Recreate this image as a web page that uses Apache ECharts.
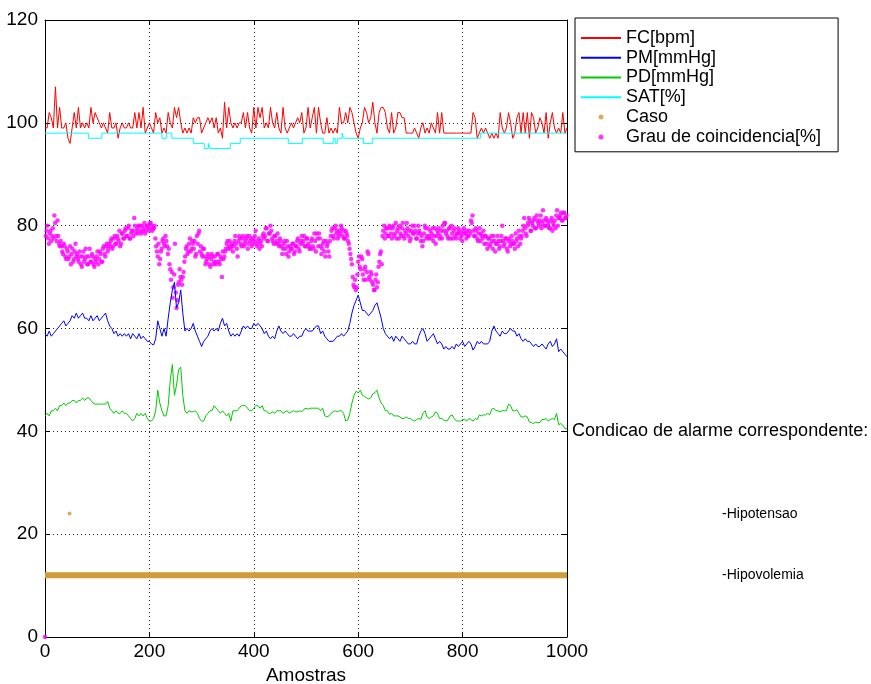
<!DOCTYPE html>
<html><head><meta charset="utf-8">
<script src="https://cdn.jsdelivr.net/npm/echarts@6/dist/echarts.min.js"></script>
<style>html,body{margin:0;padding:0;background:#fff}#c{width:871px;height:684px}</style>
</head><body><div id="c"></div>
<script>
// ---- data ----
const xTicks = [0, 200, 400, 600, 800, 1000];
const yTicks = [0, 20, 40, 60, 80, 100, 120];
const legendNames = ['FC[bpm]', 'PM[mmHg]', 'PD[mmHg]', 'SAT[%]', 'Caso', 'Grau de coincidencia[%]'];
const lineSampleStep = 4;   // FC, PM, PD read every 4 samples (0..1000)
const fcValues = [
99,99,102,101,99,107,99,103,99,99,
100,97,96,99,102,99,103,99,100,99,
100,99,103,100,102,101,100,99,100,99,
98,102,99,99,100,97,99,100,99,99,
100,99,99,102,99,102,99,103,98,99,
100,99,98,102,100,101,98,99,98,102,
100,99,103,101,103,100,98,99,98,99,
98,101,100,101,101,98,99,100,101,100,
101,99,101,98,99,97,104,99,103,100,
99,100,99,100,100,102,99,102,99,98,
103,99,103,101,103,99,100,99,103,100,
99,102,99,98,103,99,98,99,100,99,
100,101,100,102,98,99,103,99,101,103,
98,103,100,98,98,101,98,99,98,99,
98,103,100,100,102,100,103,102,100,98,
97,99,100,103,102,100,101,104,100,98,
102,103,103,102,99,98,102,98,99,102,
102,101,101,98,98,98,98,99,98,97,
99,100,98,99,98,100,99,98,102,98,
102,98,98,98,98,98,98,98,98,98,
98,98,98,98,98,102,101,97,98,99,
98,99,98,97,98,97,98,97,102,99,
98,99,102,100,97,98,101,102,98,102,
98,102,97,102,101,98,99,101,100,98,
102,97,100,102,99,98,99,98,102,98,
99];
const pmValues = [
59,58.5,59.5,58.5,59,59.5,60,60.5,61,61.5,
60.5,61,61.5,62.5,62,63,62,62.5,63,62,
62,61.5,62.5,61.5,62,62.5,61.5,62,62.5,63,
61.5,60.5,60,59,59.5,58.5,59,58.5,59,58.5,
59,58,59,58.5,58,59,58,58.5,58,57.5,
57.5,57,56.8,58,61.5,60,58.5,60,58.5,62,
65,67.5,69,64,65,67.5,63,59.5,60,59.5,
60,61,59.5,58.5,57.5,56.5,57.5,58,58.5,59.5,
60,59.5,60,59.5,61,62,60.5,61,59.5,58.5,
59,58.5,59,58.5,59.5,60.5,60,60.5,60,60,
61,60.5,61,60.5,60,59,59.5,58.5,58,58.5,
58,59.5,60.5,59.5,59,59.5,59,58.5,58.5,59,
58.5,58,58.5,58.5,59.5,60,59.5,59.5,59.5,60,
60.5,60.5,59,59.5,58.5,58,57.5,57.5,57.5,58,
58.5,58.5,59,58.5,59,59.5,61,63,64.5,65.5,
66.5,65,63.5,63.5,63,62.5,63,63.5,64.5,65,
63.5,62,60,59,58.5,58,58.5,57.5,58.5,58,
57.5,58.5,58,57.5,57,57,57.5,57,57,58.5,
59.5,60,59,57.5,58,58.5,59,58,57,57.5,
57,56,56.5,56,56,56.5,56,57,56.5,57,
57.5,56.5,57,57.5,57,55.8,56.5,57.5,57,57.5,
57,57,57,57.5,59.5,60.5,59.5,59,58.5,59.5,
59,59,59.5,60,59.5,59.5,58.5,59,58,57.5,
58,57.5,57.5,57,56.5,57,56.5,56.5,57,56.5,
56,57,57.5,56.5,57,58,55.5,56,55.5,55,
54.5];
const pdValues = [
43,43.5,43,44,44,44.5,44,45,45,45.5,
45,45.5,45.5,46,46,45.5,46,46,46.5,46,
46.5,46.5,46,45.5,45.3,45.3,45.3,45.3,45.3,45.3,
45.8,44.5,44,43.5,44,43.5,43.5,44,43.5,43.5,
43,42.5,42,42.5,43.5,43,43.5,43,43.5,42.5,
42,42,42.5,44,48,45.5,44,43,43,45,
50,53,47,49,52,52.5,47,44,43.5,44,
43.8,43.8,44,43.5,42.5,42,42,43,43.5,44,
44,45,44.5,44,43.5,44,43.5,43,43.5,42,
44,44,44,44.5,45,45,45,44.5,44,44,
44.5,45,45,44.5,45,44,44,43.5,43.5,43.8,
43.5,44,44,44,43.5,43.8,44,43.5,43.8,44,
43.8,43.8,44,43.8,44.3,44.5,44.3,44.5,44.5,44.5,
44.5,44.5,44,44.5,43,42.8,43,43.5,43.8,44,
43.8,44,44,43.5,42,42.2,43.5,45.5,47,47.8,
47.5,48,47,46.8,46.5,46.3,46.5,47.3,47.5,48,
46.5,45.5,45,44,44,43.3,43.5,43,43,43,
42.8,42.5,42.5,42.8,42.5,42.5,42.2,42,42.3,42.5,
42.3,43.5,44,42.8,42.5,42.8,43,43.8,43.5,42.5,
42.5,42.2,42,42.2,43,43.2,42.5,42,42,42,
42.3,42.3,42,42.5,42.3,42,42.5,42.3,43.2,43,
43.2,43.2,43.5,43.2,44.3,44.5,44,44,43.8,44,
44,44,45.3,45,44,44,44.2,43.5,42.8,42.8,
43,42.8,41.8,41.7,41.5,41.8,41.7,41.7,42.3,42.3,
42.5,42,42.3,42.5,42.3,43.5,41.3,41.5,41.2,40.5,
40.5];
// SAT: sample where each level starts, and the level
const satStartX = [0,83,109,224,233,243,284,305,313,316,355,374,466,493,533,552,556,560,569,572,610,627,834,1000];
const satLevels = [98,97,98,97,98,97,96,95,96,95,96,97,96,97,96,97,96,97,98,97,96,97,98,98];
// Caso: constant band of samples at 12, plus one sample at 24
const casoBandX = [0, 1000];
const casoBandY = [12, 12];
const casoPointX = [47];
const casoPointY = [24];
// Grau de coincidencia: set A read at samples 0,3,6..999 ; set B at 1.5,4.5,...,997.5
const grauStep = 3;
const grauOffsetB = 1.5;
const grauValuesA = [0,
79,77.5,78.5,77,79.5,82,78,81,76.5,77,
75,76.5,74,75.5,73.5,76,74.5,73,75,74,
73.5,75,72.5,74,73,75.5,72.5,74,73,74.5,
72.5,73.5,74,72.5,75,73,75.5,74.5,76,75,
76.5,77,75.5,77.5,76.5,78,77,76,78.5,77.5,
79,78,79.5,77.5,78.5,79,81.5,78.5,79.5,80,
79,80,79.5,78.5,80,79.5,80.5,80,79.5,80,
76,74,72.5,75,77,76.5,78,76,75.5,71.5,
71,68,76.5,64,68.5,71.5,69.5,70,73,75.5,
74.5,76.5,75,77,75.5,74,78,78.5,75,74.5,
75.5,74,73,74.5,72.5,73.5,74,73,72.5,74.5,
73,74,70,73.5,75,76.5,75.5,77,76,75,
77,76.5,74,78,76.5,77.5,76,77,78,76.5,
77,76,77.5,78,76.5,77,75.5,77,78,77.5,
79.5,77,78.5,80,77.5,76.5,78,77,76.5,77.5,
76,75.5,77,74.5,76,75,75.5,76.5,74.5,76,
77,75.5,76.5,78,77,76,77.5,76.5,75.5,77,
76,78.5,75,77.5,78.5,76,75.5,77,74,76,
75,77,79,78,79.5,78.5,77.5,79,80,78,
77.5,79,78,76.5,74.5,72.5,68.5,69.5,68,73,
72,74,70.5,71.5,69.5,75,70,71,69,67.5,
69.5,68,72,74.5,72.5,79,77.5,79.5,78,80,
78.5,79.5,78,80.5,79,77.5,78.5,79.5,78,79,
80.5,78,77,79,78.5,80,77.5,78.5,79,77,
76,78.5,79.5,78,77.5,79,78.5,77,79.5,78,
78.5,77.5,79,80,80.5,78.5,78,79.5,77.5,78.5,
79,78,78.5,79.5,77.5,78,79,78.5,77.5,78,
79,81,82,78,79.5,77.5,78.5,77,78,79,
78,76.5,77.5,76,78,75.5,77,76.5,78,75.5,
77,80,76,77.5,75.5,77,76,78,76.5,75.5,
77,76,78,77.5,79,81.5,78.5,80,81.5,79,
80.5,81,79.5,82,80.5,81,79.5,83,80,81.5,
80,79.5,81,79,80,79.5,83,81.5,82,81,
82.5,81.5,82];
const grauValuesB = [
78,80,76.5,79,78,77.5,80.5,77,78,76,
76,74.5,76,73.5,75,74,72.5,75.5,73.5,76.5,
74.5,73,74,72,75,73.5,74,72.5,75.5,73,
74,72,73,75,73.5,74.5,73,76,74,76.5,
75.5,76,77.5,76,78,76.5,77.5,79,76.5,78.5,
77.5,79.5,78,80,77.5,79,78,80,79,78.5,
80,78.5,79,80.5,79,80,79,80.5,79,79.5,
77.5,75,76.5,73.5,75.5,77.5,76,77,74.5,72.5,
69.5,66,70.5,67,65.5,69,70,68.5,71,74,
76,75,77.5,75.5,76.5,77,74.5,76.5,79,76,
74,75.5,72.5,73.5,74,72,74.5,72.5,74,73,
74.5,72.5,73.5,75,74,75.5,77,76,75.5,76.5,
76,78,75.5,77,77.5,76,78,76.5,77.5,75.5,
78,77.5,76.5,77,79,76,77.5,76.5,76,78.5,
78,79.5,77,78.5,79,77,78,76.5,78.5,76,
77,74.5,76.5,75.5,77,74,76,75.5,76.5,75,
76,77.5,75,77,76.5,78,76,77.5,76,75.5,
77.5,75.5,77,78.5,76,77.5,74.5,76.5,75,77,
76.5,74,78,79.5,77.5,80,79,78,78.5,79.5,
79,77.5,78.5,77,75.5,73.5,70,68,67.5,70.5,
74,71.5,73.5,69.5,72,71,74.5,69.5,70.5,68.5,
67.5,70.5,69,73,75,78,80,78.5,79.5,78,
79.5,77.5,80,78.5,77.5,79.5,80,78,80.5,77.5,
78.5,79.5,79,77.5,80,78.5,79,77.5,80,78.5,
78,77,80,77.5,79.5,78,77.5,79.5,78,76.5,
79,79.5,78,77.5,79,80.5,79,77.5,79.5,80,
77.5,79.5,77.5,78.5,79,78.5,77,79.5,78.5,79,
78,78.5,80.5,79,78,79,77,79.5,78.5,77.5,
76.5,78,75.5,77.5,76.5,77,78,75,76.5,77,
76,78,77,76.5,77.5,75,77.5,76.5,77,76.5,
78.5,77.5,79,76.5,78,80,79.5,78,80.5,81,
79,80,81.5,79.5,81,80,82,80.5,81,80,
81,80.5,79.5,81.5,80.5,81,82,80,81.5,82.5,
81,82.5,81.5];

// ---- build ----
const FONT = 'Liberation Sans';
const stepPairs = (vals, step, offset) => vals.map((v, i) => [(offset || 0) + i * step, v]);
const zipPairs = (xs, ys) => xs.map((x, i) => [x, ys[i]]);

const chart = echarts.init(document.getElementById('c'), null, {renderer: 'canvas'});
const lineS = (name, vals, color) => ({
  name, type: 'line', data: stepPairs(vals, lineSampleStep), symbol: 'none',
  lineStyle: {color, width: 1}, itemStyle: {color}
});
const mkX = (pos, labels) => ({
  type: 'value', position: pos, min: xTicks[0], max: xTicks[xTicks.length - 1], interval: 200,
  axisLine: {show: true, onZero: false, lineStyle: {color: '#000', width: 1}},
  axisTick: {show: true, inside: true, length: 5, lineStyle: {color: '#000'}},
  axisLabel: {show: labels, color: '#000', fontFamily: FONT, fontSize: 19, margin: 5,
              formatter: v => String(v)},
  splitLine: {show: labels, lineStyle: {color: '#222', type: [1, 3], width: 1}}
});
const mkY = (pos, labels) => ({
  type: 'value', position: pos, min: yTicks[0], max: yTicks[yTicks.length - 1], interval: 20,
  axisLine: {show: true, onZero: false, lineStyle: {color: '#000', width: 1}},
  axisTick: {show: true, inside: true, length: 5, lineStyle: {color: '#000'}},
  axisLabel: {show: labels, color: '#000', fontFamily: FONT, fontSize: 19, margin: 7,
              formatter: v => String(v)},
  splitLine: {show: labels, lineStyle: {color: '#222', type: [1, 3], width: 1}}
});
const xA = [mkX('bottom', true), mkX('top', false)];
Object.assign(xA[0], {name: 'Amostras', nameLocation: 'middle', nameGap: 26,
  nameTextStyle: {color: '#000', fontFamily: FONT, fontSize: 19}});

const lineLegend = name => ({name, itemStyle: {opacity: 0}});

chart.setOption({
  animation: false,
  backgroundColor: '#fff',
  grid: {left: 45, right: 304, top: 20, bottom: 47, containLabel: false, outerBoundsMode: 'none'},
  xAxis: xA,
  yAxis: [mkY('left', true), mkY('right', false)],
  legend: {
    orient: 'vertical', left: 575, top: 18, padding: [10, 17, 5, 5],
    itemGap: 0, itemWidth: 40, itemHeight: 5, selectedMode: false,
    backgroundColor: '#fff', borderColor: '#000', borderWidth: 1, borderRadius: 0,
    textStyle: {fontFamily: FONT, fontSize: 18, color: '#000', lineHeight: 19.8},
    data: [
      lineLegend(legendNames[0]), lineLegend(legendNames[1]),
      lineLegend(legendNames[2]), lineLegend(legendNames[3]),
      {name: legendNames[4], icon: 'circle'}, {name: legendNames[5], icon: 'circle'}
    ]
  },
  series: [
    lineS(legendNames[0], fcValues, '#ff0000'),
    lineS(legendNames[1], pmValues, '#0000ff'),
    lineS(legendNames[2], pdValues, '#00cc00'),
    {name: legendNames[3], type: 'line', step: 'end', symbol: 'none',
     data: zipPairs(satStartX, satLevels), lineStyle: {color: '#00ffff', width: 1}, itemStyle: {color: '#00ffff'}},
    {name: legendNames[4], type: 'scatter', symbol: 'circle', symbolSize: 4,
     data: zipPairs(casoPointX, casoPointY), itemStyle: {color: '#d19a3a'}},
    {name: legendNames[4], type: 'line', symbol: 'none', data: zipPairs(casoBandX, casoBandY),
     lineStyle: {color: '#d19a3a', width: 6, cap: 'butt'}, itemStyle: {color: '#d19a3a'}},
    {name: legendNames[5], type: 'scatter', symbol: 'circle', symbolSize: 4.5,
     data: stepPairs(grauValuesA, grauStep).concat(stepPairs(grauValuesB, grauStep, grauOffsetB)),
     itemStyle: {color: '#ff00ff'}}
  ],
  graphic: [
    {type: 'text', left: 572, top: 422, style: {text: 'Condicao de alarme correspondente:', fontFamily: FONT, fontSize: 18, fill: '#000'}},
    {type: 'text', left: 722, top: 507, style: {text: '-Hipotensao', fontFamily: FONT, fontSize: 14, fill: '#000'}},
    {type: 'text', left: 722, top: 568, style: {text: '-Hipovolemia', fontFamily: FONT, fontSize: 14, fill: '#000'}}
  ]
});
</script></body></html>
